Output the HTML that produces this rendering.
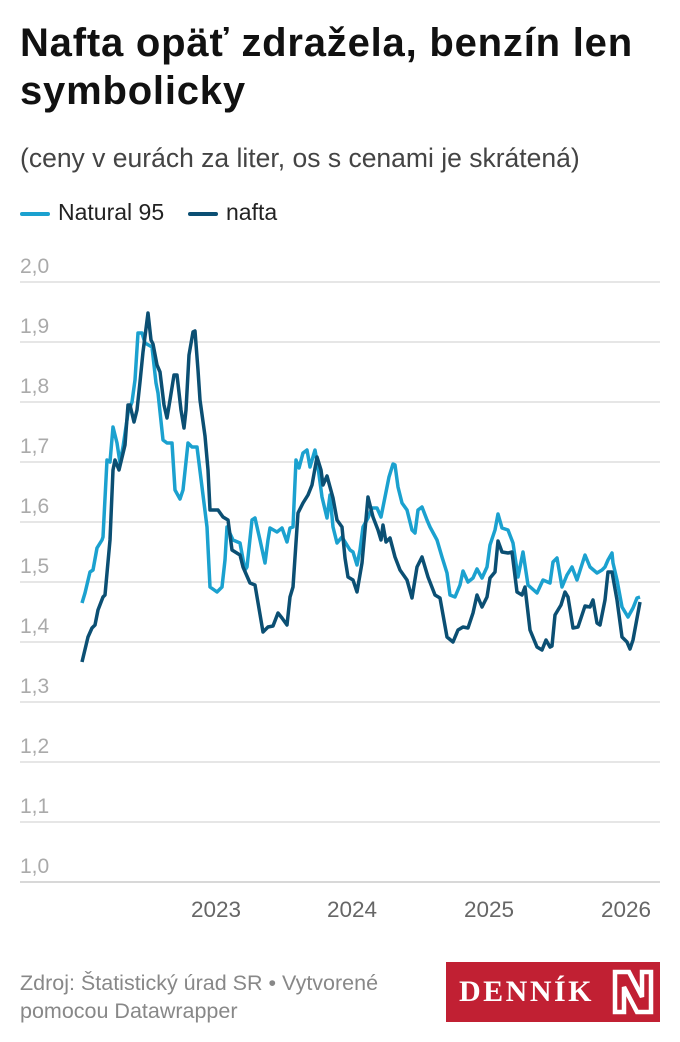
<!DOCTYPE html>
<html><head><meta charset="utf-8"><style>
body{margin:0;background:#fff;width:680px;height:1042px;overflow:hidden;font-family:"Liberation Sans",sans-serif;position:relative}
.t{position:absolute;left:20px;top:19px;font-size:40px;font-weight:bold;line-height:48px;color:#111;letter-spacing:0.8px;white-space:nowrap}
.s{position:absolute;left:20px;top:143px;font-size:26.5px;color:#444;white-space:nowrap}
.lg{position:absolute;top:199px;font-size:23px;color:#222;white-space:nowrap}
.lg i{display:inline-block;width:30px;height:4px;vertical-align:middle;margin-right:8px;border-radius:2px}
.f{position:absolute;left:20px;top:969px;font-size:21.5px;color:#888;line-height:28px;white-space:nowrap}
.logo{position:absolute;left:446px;top:962px;width:214px;height:60px;background:#c12033}
</style></head><body>
<div class="t">Nafta opäť zdražela, benzín len<br>symbolicky</div>
<div class="s">(ceny v eurách za liter, os s cenami je skrátená)</div>
<div class="lg" style="left:20px"><i style="background:#1ba1cf"></i>Natural 95</div>
<div class="lg" style="left:188px"><i style="background:#0b4f73"></i>nafta</div>
<svg style="position:absolute;left:0;top:0" width="680" height="1042">
<g stroke="#ddd" stroke-width="1.5">
<line x1="20" x2="660" y1="282" y2="282"/><line x1="20" x2="660" y1="342" y2="342"/><line x1="20" x2="660" y1="402" y2="402"/><line x1="20" x2="660" y1="462" y2="462"/><line x1="20" x2="660" y1="522" y2="522"/><line x1="20" x2="660" y1="582" y2="582"/><line x1="20" x2="660" y1="642" y2="642"/><line x1="20" x2="660" y1="702" y2="702"/><line x1="20" x2="660" y1="762" y2="762"/><line x1="20" x2="660" y1="822" y2="822"/><line x1="20" x2="660" y1="882" y2="882" stroke="#ccc"/>
</g>
<g font-size="21" fill="#aaa" font-family="Liberation Sans,sans-serif">
<text x="20" y="273">2,0</text><text x="20" y="333">1,9</text><text x="20" y="393">1,8</text><text x="20" y="453">1,7</text><text x="20" y="513">1,6</text><text x="20" y="573">1,5</text><text x="20" y="633">1,4</text><text x="20" y="693">1,3</text><text x="20" y="753">1,2</text><text x="20" y="813">1,1</text><text x="20" y="873">1,0</text>
</g>
<g font-size="22.5" fill="#666" text-anchor="middle" font-family="Liberation Sans,sans-serif">
<text x="216" y="917">2023</text><text x="352" y="917">2024</text><text x="489" y="917">2025</text><text x="626" y="917">2026</text>
</g>
<polyline fill="none" stroke="#1ba1cf" stroke-width="3.5" stroke-linejoin="round" points="82,603 85,593 90,572 93,570 97,548 102,540 103,537 107,460 110,462 113,427 117,443 120,463 123,447 128,413 132,402 135,380 138,333 142,333 145,343 152,347 156,383 158,393 163,440 167,443 172,443 175,490 180,499 183,490 188,443 192,447 197,447 202,487 207,527 210,587 217,592 222,587 225,560 227,527 233,540 240,543 245,570 247,567 252,520 255,518 260,540 265,563 268,540 270,528 277,532 282,528 287,542 290,528 293,527 296,460 299,468 303,453 307,450 310,467 315,450 318,467 322,497 327,518 330,495 333,527 337,543 342,537 350,550 353,552 357,565 360,550 363,527 368,518 372,508 377,508 381,517 385,497 389,477 393,464 395,465 398,487 402,503 407,510 412,530 415,533 418,510 422,507 427,520 430,527 437,540 442,557 447,573 450,595 455,597 460,585 463,571 468,582 473,578 477,569 482,578 487,567 490,545 495,530 498,514 502,528 508,530 513,543 518,577 523,552 528,585 537,593 543,580 550,583 553,562 557,558 562,587 567,575 572,567 577,580 585,555 590,567 597,573 602,570 605,567 608,560 612,553 613,563 617,580 622,607 628,617 633,608 637,598 640,597"/>
<polyline fill="none" stroke="#0b4f73" stroke-width="3.5" stroke-linejoin="round" points="82,662 88,637 92,628 95,625 98,610 103,597 105,595 110,540 113,470 115,460 119,470 125,445 128,405 130,405 134,422 137,410 140,382 143,352 148,313 151,340 153,344 157,365 160,372 164,405 167,418 170,400 174,375 177,375 181,410 184,428 186,410 189,355 193,332 195,331 198,370 200,400 205,436 208,470 210,510 218,510 223,517 228,520 232,550 240,555 243,567 250,583 255,585 263,632 268,627 273,626 278,613 282,618 287,625 290,597 293,587 298,513 303,503 308,495 312,485 317,457 321,470 323,485 327,476 333,498 337,520 342,527 345,558 348,577 353,580 357,592 362,563 368,497 373,517 378,530 381,540 383,525 386,542 390,538 395,557 400,570 407,580 412,598 417,567 422,557 428,577 435,595 440,598 447,637 453,642 458,630 463,627 468,628 473,613 477,595 482,607 487,597 490,578 495,572 498,541 502,552 508,553 512,552 517,592 522,595 525,587 530,630 537,647 542,650 546,640 550,647 552,646 555,615 558,610 561,605 565,592 568,597 573,628 578,627 585,606 590,607 593,600 597,623 600,625 605,600 608,572 612,572 617,600 622,637 627,642 630,649 633,640 640,602"/>
</svg>
<div class="f">Zdroj: Štatistický úrad SR • Vytvorené<br>pomocou Datawrapper</div>
<div class="logo">
<div style="position:absolute;left:13px;top:13px;font-family:'Liberation Serif',serif;font-weight:bold;font-size:30px;color:#fff;letter-spacing:2.5px;white-space:nowrap">DENNÍK</div>
<svg style="position:absolute;left:166px;top:7px" width="42" height="46"><path d="M3 3 H17 L30 28 V3 H39 V43 H25 L12 18 V43 H3 Z" fill="none" stroke="#fff" stroke-width="4.5"/></svg>
</div>
</body></html>
